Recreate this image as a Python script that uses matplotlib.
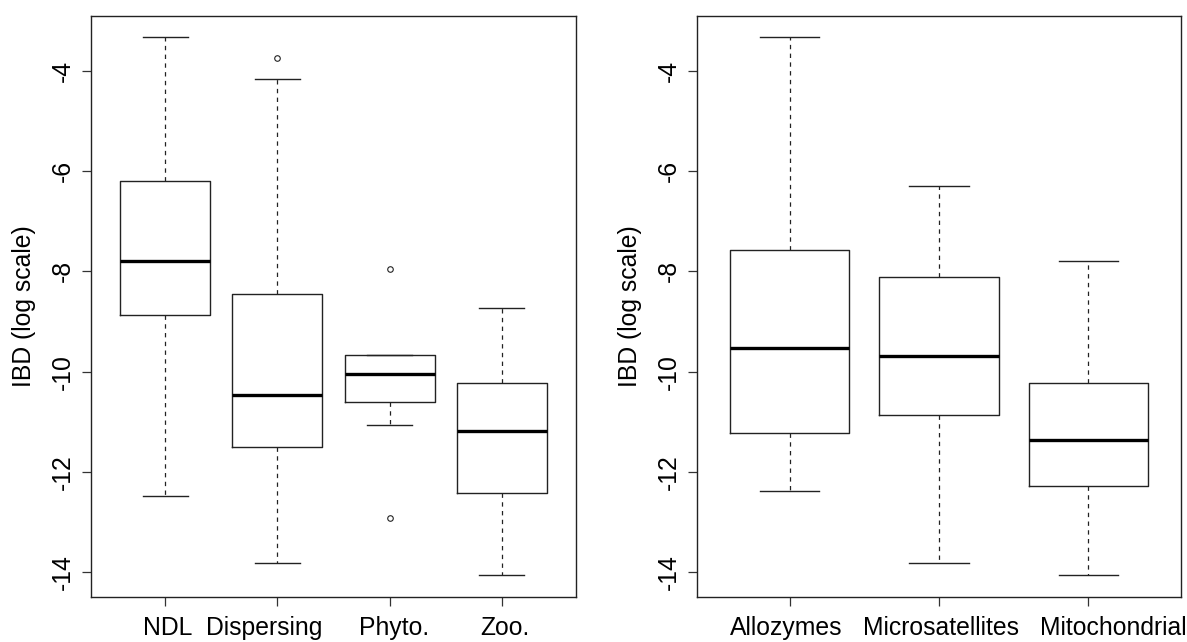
import matplotlib
matplotlib.use("Agg")
import matplotlib.pyplot as plt
import matplotlib.transforms as mtransforms

plt.rcParams["font.family"] = ["Liberation Sans", "DejaVu Sans"]

# left panel: groups
groups = ["NDL", "Dispersing", "Phyto.", "Zoo."]
g_lo = [-12.48, -13.82, -11.06, -14.05]
g_q1 = [-8.87, -11.51, -10.61, -12.42]
g_med = [-7.79, -10.47, -10.04, -11.18]
g_q3 = [-6.20, -8.46, -9.67, -10.23]
g_hi = [-3.33, -4.16, -9.66, -8.73]
g_out = [[], [-3.75], [-7.95, -12.91], []]

# right panel: markers
markers = ["Allozymes", "Microsatellites", "Mitochondrial"]
m_lo = [-12.38, -13.82, -14.05]
m_q1 = [-11.23, -10.86, -12.27]
m_med = [-9.53, -9.69, -11.37]
m_q3 = [-7.58, -8.12, -10.23]
m_hi = [-3.33, -6.29, -7.79]
m_out = [[], [], []]

yticks = [-4, -6, -8, -10, -12, -14]

# the original labels are nudged sideways a bit (pixels)
g_nudge = [3, -13, 4, 3]
m_nudge = [-3, 2, 25]


def draw_panel(ax, labels, lo, q1, med, q3, hi, out, nudge):
    stats = []
    for i in range(len(labels)):
        stats.append(dict(label=labels[i], whislo=lo[i], q1=q1[i], med=med[i],
                          q3=q3[i], whishi=hi[i], fliers=out[i]))
    n = len(labels)
    ax.bxp(stats, positions=range(1, n + 1), widths=0.8, showfliers=True,
           boxprops=dict(color="#222222", linewidth=1.0),
           medianprops=dict(color="black", linewidth=2.4, solid_capstyle="butt"),
           whiskerprops=dict(color="#222222", linewidth=0.9, linestyle=(0, (3.5, 3.5))),
           capprops=dict(color="#222222", linewidth=1.0),
           capwidths=0.4,
           flierprops=dict(marker="o", markersize=4, markerfacecolor="none",
                           markeredgecolor="#222222", markeredgewidth=0.8))
    ax.set_xlim(0.5 - 0.04 * n, n + 0.5 + 0.04 * n)
    ax.set_ylim(-14.49, -2.91)
    ax.set_yticks(yticks)
    ax.set_yticklabels([str(t) for t in yticks], rotation=90, va="center")
    ax.set_xticks(range(1, n + 1))
    ax.set_xticklabels(labels)
    ax.tick_params(axis="both", labelsize=17.8, length=6.5, width=0.9,
                   color="#333333", direction="out")
    ax.tick_params(axis="y", pad=5)
    ax.tick_params(axis="x", pad=7)
    for lab, dx in zip(ax.get_xticklabels(), nudge):
        off = mtransforms.ScaledTranslation(dx / 100, 0, ax.figure.dpi_scale_trans)
        lab.set_transform(lab.get_transform() + off)
    for s in ax.spines.values():
        s.set_linewidth(1.0)
        s.set_color("#222222")
    ax.set_ylabel("IBD (log scale)", fontsize=17.8, labelpad=11)


fig = plt.figure(figsize=(11.87, 6.42), dpi=100)
ax1 = fig.add_axes([91 / 1187, 1 - 597 / 642, 485 / 1187, 581 / 642])
ax2 = fig.add_axes([697 / 1187, 1 - 597 / 642, 484 / 1187, 581 / 642])

draw_panel(ax1, groups, g_lo, g_q1, g_med, g_q3, g_hi, g_out, g_nudge)
draw_panel(ax2, markers, m_lo, m_q1, m_med, m_q3, m_hi, m_out, m_nudge)

fig.savefig("out.png", dpi=100)
plt.close(fig)
